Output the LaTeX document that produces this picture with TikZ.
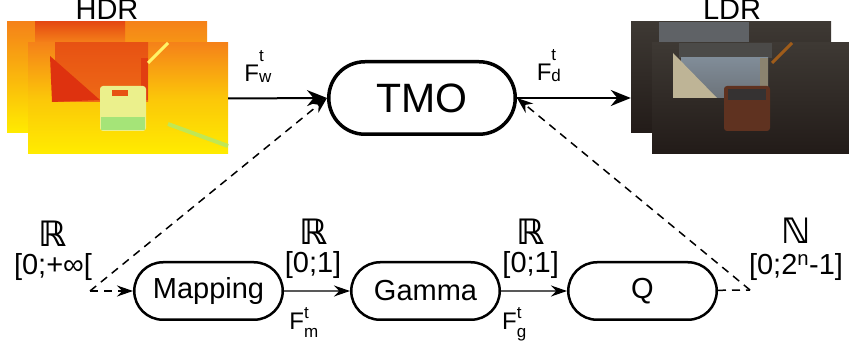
\documentclass[tikz,border=0pt]{standalone}
\usepackage{fontspec}
\setmainfont{Liberation Sans}
\newfontfamily\dsfont{DejaVu Sans}
\usetikzlibrary{positioning,shapes.misc,arrows.meta}

\definecolor{hdrred}{RGB}{222,50,15}
\definecolor{hdrorange}{RGB}{245,130,25}
\definecolor{hdryellow}{RGB}{255,236,0}
\definecolor{hdrpale}{RGB}{235,240,140}
\definecolor{hdrgreen}{RGB}{165,228,120}
\definecolor{ldrdark}{RGB}{34,27,24}
\definecolor{ldrwall}{RGB}{62,57,52}
\definecolor{ldrsky}{RGB}{128,140,152}
\definecolor{ldrlit}{RGB}{190,180,150}
\definecolor{ldrcar}{RGB}{95,50,32}

\newcommand{\fsig}[3]{F\rlap{\raisebox{#2}{\fontsize{17}{17}\selectfont t}}\raisebox{#3}{\fontsize{17}{17}\selectfont #1}}

\begin{document}
\begin{tikzpicture}[x=1pt,y=-1pt,>={Stealth[length=20pt,width=16pt]},
    block/.style={rounded rectangle,draw,line width=2.5pt,minimum width=148.5pt,minimum height=57.5pt,inner sep=0pt,font=\fontsize{29}{33}\selectfont},
    photo/.style={rectangle,inner sep=0pt,minimum width=200pt,minimum height=111pt},
    flow/.style={line width=2pt,->},
    thin flow/.style={line width=1.3pt,-{Stealth[length=16pt,width=11pt]}},
    ctrl/.style={line width=1.5pt,dash pattern=on 8pt off 6pt},
    lbl/.style={inner sep=0pt,font=\fontsize{29}{33}\selectfont},
    set lbl/.style={inner sep=0pt,font=\dsfont\bfseries\fontsize{35}{40}\selectfont},
    sig lbl/.style={inner sep=0pt,font=\fontsize{24}{28}\selectfont}]

    \useasboundingbox (0,0) rectangle (849,347);

    % HDR frames
    \node[photo,top color=hdrorange,bottom color=hdryellow] (hdrback) at (107,77.5) {};
    \fill[top color=hdrred!70!hdrorange,bottom color=hdrorange] (35,22) rectangle (125,43);
    \node[photo,top color=hdrorange,bottom color=hdryellow,middle color=hdrorange!35!hdryellow] (hdrfront) at (128,98.5) {};
    \fill[top color=hdrred!60!hdrorange,bottom color=hdrred!30!hdrorange] (55,43) rectangle (148,102);
    \fill[hdrred] (50,56) -- (100,100) -- (52,102) -- cycle;
    \fill[hdrred!85!hdrorange] (141,58) rectangle (148,100);
    \draw[hdryellow!60!white,line width=3pt] (148,63) -- (168,43);
    \fill[hdrpale,rounded corners=3pt] (100,86) rectangle (146,131);
    \fill[hdrgreen] (101,117) rectangle (145,130);
    \fill[hdrred!60!hdrorange] (112,90) rectangle (128,96);
    \draw[hdrgreen!70!hdryellow,line width=4pt] (168,124) -- (228,146);
    \node[lbl,anchor=base] (hdrlbl) at (107,20) {HDR};

    % LDR frames
    \node[photo,top color=ldrwall,bottom color=ldrdark] (ldrback) at (731,77.5) {};
    \fill[ldrsky!50!ldrwall] (659,22) rectangle (749,43);
    \node[photo,top color=ldrwall,bottom color=ldrdark] (ldrfront) at (752,98.5) {};
    \fill[ldrwall!80!ldrsky] (679,43) rectangle (772,58);
    \fill[top color=ldrsky,bottom color=ldrsky!70!ldrwall] (681,58) rectangle (768,98);
    \fill[ldrlit] (673,53) -- (717,98) -- (673,98) -- cycle;
    \fill[ldrlit!60!ldrwall] (760,58) rectangle (768,98);
    \draw[orange!50!ldrwall,line width=3pt] (772,63) -- (792,43);
    \fill[ldrcar,rounded corners=3pt] (724,86) rectangle (770,131);
    \fill[ldrdark!80!ldrsky] (728,89) rectangle (766,100);
    \node[lbl,anchor=base] (ldrlbl) at (732,20) {LDR};

    % operators
    \node[block,line width=3.5pt,minimum width=186.5pt,minimum height=72.5pt,font=\fontsize{41}{46}\selectfont] (tmo) at (422,98) {TMO};
    \node[block] (mapping) at (208.5,291) {Mapping};
    \node[block] (gamma) [right=66pt of mapping] {Gamma};
    \node[block] (quant) [right=66pt of gamma] {Q};

    \draw[flow] (hdrfront.east) -- node[sig lbl,above=15pt,pos=0.3] (fw) {\fsig{w}{20pt}{-1pt}} (tmo.west);
    \draw[flow] (tmo.east) -- node[sig lbl,above=15pt,pos=0.28] (fd) {\fsig{d}{20pt}{-1pt}} (tmo.east -| ldrback.west);

    \draw[thin flow] (mapping) -- node[lbl,above=12pt,pos=0.44] (mrange) {[0;1]} node[sig lbl,below=16pt,pos=0.3] (fm) {\fsig{m}{11pt}{-8pt}} (gamma);
    \draw[thin flow] (gamma) -- node[lbl,above=12pt,pos=0.45] (grange) {[0;1]} node[sig lbl,below=16pt,pos=0.2] (fg) {\fsig{g}{11pt}{-8pt}} (quant);
    \node[set lbl,above=6pt of mrange] (mset) {ℝ};
    \node[set lbl,above=6pt of grange] (gset) {ℝ};

    % input and output ranges
    \node[lbl,anchor=south] (inrange) at (53,281) {[0;+∞[};
    \node[set lbl,above=7pt of inrange] (inset) {ℝ};
    \node[lbl,anchor=south] (outrange) at (796,281) {[0;2\textsuperscript{n}-1]};
    \node[set lbl,above=10pt of outrange] (outset) {ℕ};

    \coordinate (qin) at (90,291);
    \coordinate (qout) at (750,290);
    \draw[ctrl,-{Stealth[length=16pt,width=11pt]}] (qin) -- (mapping);
    \draw[ctrl,-{Stealth[length=16pt,width=12pt]}] (qin) -- (tmo.west);
    \draw[ctrl] (quant) -- (qout);
    \draw[ctrl,-{Stealth[length=16pt,width=12pt]}] (qout) -- (tmo.east);
\end{tikzpicture}
\end{document}
